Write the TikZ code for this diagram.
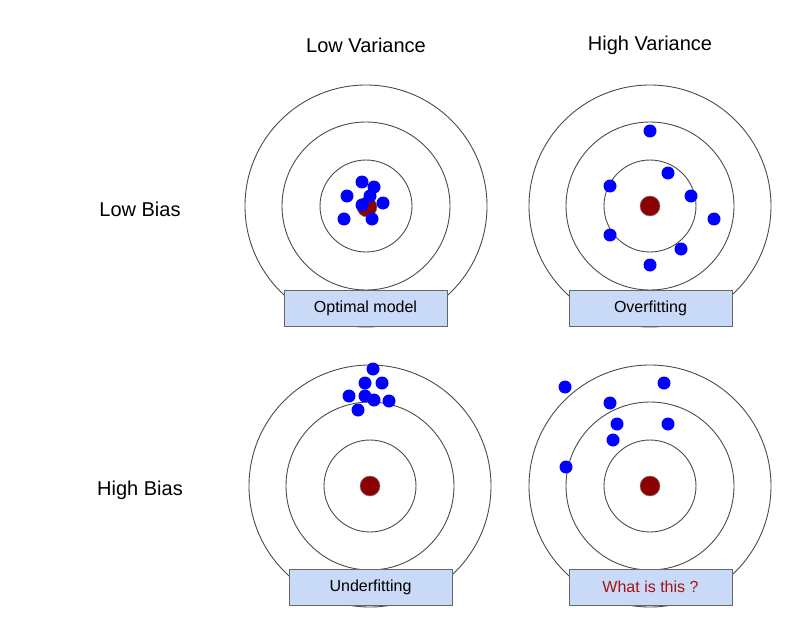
\documentclass[tikz,border=0pt]{standalone}
\usepackage{fontspec}
\setmainfont{Liberation Sans}
\begin{document}
\begin{tikzpicture}[x=1pt,y=-1pt,
 ring/.style={draw=black!70,line width=0.9pt},
 dot/.style={fill=blue,draw=none},
 bull/.style={fill=red!55!black,draw=black!50,line width=0.5pt},
 lab/.style={draw=black!60,line width=0.9pt,fill={rgb,255:red,201;green,218;blue,248},minimum width=163pt,minimum height=36pt,inner sep=0pt,font=\fontsize{16}{18}\selectfont},
 head/.style={font=\fontsize{20}{24}\selectfont}]
\useasboundingbox[fill=white] (0,0) rectangle (798,626);
\node[head] (lv) at (366,45) {Low Variance};
\node[head] (hv) at (650,45) {High Variance};
\node[head] (lb) at (140,209) {Low Bias};
\node[head] (hb) at (140,490) {High Bias};
\foreach \n/\cx/\cy in {a/366/206,b/650/206,c/370/486,d/650/486}{
 \draw[ring] (\cx,\cy) circle (121);
 \draw[ring] (\cx,\cy) circle (84);
 \draw[ring] (\cx,\cy) circle (46);
 \coordinate (\n) at (\cx,\cy);
}
\fill[bull] (367,207) circle (10);
\fill[bull] (650,206) circle (10);
\fill[bull] (370,486) circle (10);
\fill[bull] (650,486) circle (10);
\foreach \x/\y in {362/182,374/187,347/196,370/196,383/203,362/205,344/219,372/219}
 \fill[dot] (\x,\y) circle (6.5);
\foreach \x/\y in {650/131,668/173,610/186,691/196,714/219,610/235,681/249,650/265}
 \fill[dot] (\x,\y) circle (6.5);
\foreach \x/\y in {373/369,365/383,382/383,349/396,365/396,374/400,389/401,358/410}
 \fill[dot] (\x,\y) circle (6.5);
\foreach \x/\y in {565/387,664/383,610/403,617/424,668/424,613/440,566/467}
 \fill[dot] (\x,\y) circle (6.5);
\node[lab] (l1) at (365.5,308) {Optimal model};
\node[lab] (l2) at (650.5,308) {Overfitting};
\node[lab] (l3) at (370.5,587) {Underfitting};
\node[lab,text={rgb,255:red,165;green,20;blue,20}] (l4) at (650.5,587) {What is this ?};
\end{tikzpicture}
\end{document}
